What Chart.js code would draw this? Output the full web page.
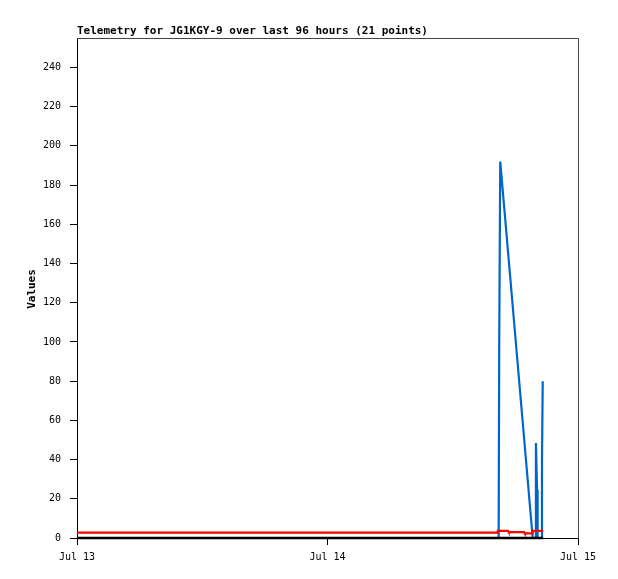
<!DOCTYPE html>
<html>
<head>
<meta charset="utf-8">
<script src="https://cdn.jsdelivr.net/npm/chart.js@4/dist/chart.umd.min.js"></script>
<style>
html,body{margin:0;padding:0;background:#fff;}
#wrap{position:relative;width:618px;height:579px;}
</style>
</head>
<body>
<div id="wrap"><canvas id="c" width="618" height="579"></canvas></div>
<script>
// ---- data (hours since Jul 13 00:00) ----
const titleText = "Telemetry for JG1KGY-9 over last 96 hours (21 points)";
const yAxisLabel = "Values";
const xTickHours = [0, 24, 48];
const xTickLabels = ["Jul 13", "Jul 14", "Jul 15"];
const yTicks = [0, 20, 40, 60, 80, 100, 120, 140, 160, 180, 200, 220, 240];

const blueHours  = [0, 40.40, 40.45, 40.55, 43.66, 43.92, 43.97, 44.08, 44.13, 44.50, 44.55, 44.62];
const blueValues = [0, 0,     97,    192,   0,     0,     48.5,  24.5,  0,     0,     40,    80];

const redHours  = [0,   40.25, 40.32, 41.30, 41.36, 42.84, 42.90, 43.60, 43.66, 44.66];
const redValues = [2.7, 2.7,   3.6,   3.6,   3.0,   3.0,   2.4,   2.4,   3.6,   3.6];

const blackHours  = [0, 44.66];
const blackValues = [0, 0];

const toXY = (xs, ys) => xs.map((x, i) => ({x: x, y: ys[i]}));

const overlay = {
  id: 'overlay',
  afterDraw(chart) {
    const ctx = chart.ctx, a = chart.chartArea;
    ctx.save();
    // frame top/right
    ctx.strokeStyle = '#444';
    ctx.lineWidth = 1;
    ctx.beginPath();
    ctx.moveTo(a.left, a.top + 0.5);
    ctx.lineTo(a.right + 0.5, a.top + 0.5);
    ctx.lineTo(a.right + 0.5, a.bottom);
    ctx.stroke();
    // title
    ctx.fillStyle = '#000';
    ctx.font = 'bold 11px "DejaVu Sans Mono"';
    ctx.textAlign = 'left';
    ctx.textBaseline = 'alphabetic';
    ctx.fillText(titleText, a.left, 34);
    // y axis title
    ctx.translate(32, 289);
    ctx.rotate(-Math.PI / 2);
    ctx.textAlign = 'center';
    ctx.textBaseline = 'middle';
    ctx.fillText(yAxisLabel, 0, 0);
    ctx.restore();
  }
};

new Chart(document.getElementById('c'), {
  type: 'line',
  data: {
    datasets: [
      { label: 'zero', data: toXY(blackHours, blackValues), borderColor: '#000', borderWidth: 2.5, pointRadius: 0, tension: 0, order: 0, clip: false },
      { label: 'red', data: toXY(redHours, redValues), borderColor: '#ff0000', borderWidth: 2.2, pointRadius: 0, tension: 0, order: 1, clip: false },
      { label: 'blue', data: toXY(blueHours, blueValues), borderColor: '#0066cc', borderWidth: 2.2, pointRadius: 0, tension: 0, order: 2, clip: false }
    ]
  },
  options: {
    responsive: false,
    animation: false,
    layout: { padding: { top: 38, right: 40, left: 0, bottom: 0 } },
    plugins: { legend: { display: false }, tooltip: { enabled: false }, title: { display: false } },
    scales: {
      x: {
        type: 'linear',
        min: 0, max: 48,
        afterBuildTicks: s => { s.ticks = xTickHours.map(v => ({value: v})); },
        afterFit: s => { s.height = 41; },
        ticks: {
          autoSkip: false, maxRotation: 0, padding: 6,
          color: '#000', font: { family: 'DejaVu Sans Mono', size: 10 },
          callback: (v) => { const i = xTickHours.indexOf(v); return i >= 0 ? xTickLabels[i] : ''; }
        },
        grid: { drawOnChartArea: false, drawTicks: true, tickLength: 7, color: '#000', lineWidth: 1 },
        border: { display: true, color: '#000', width: 1 }
      },
      y: {
        type: 'linear',
        min: 0, max: 255,
        afterBuildTicks: s => { s.ticks = yTicks.map(v => ({value: v})); },
        afterFit: s => { s.width = 77; },
        ticks: {
          autoSkip: false, padding: 9,
          color: '#000', font: { family: 'DejaVu Sans Mono', size: 10 }
        },
        grid: { drawOnChartArea: false, drawTicks: true, tickLength: 7, color: '#000', lineWidth: 1 },
        border: { display: true, color: '#000', width: 1 }
      }
    }
  },
  plugins: [overlay]
});
</script>
</body>
</html>
